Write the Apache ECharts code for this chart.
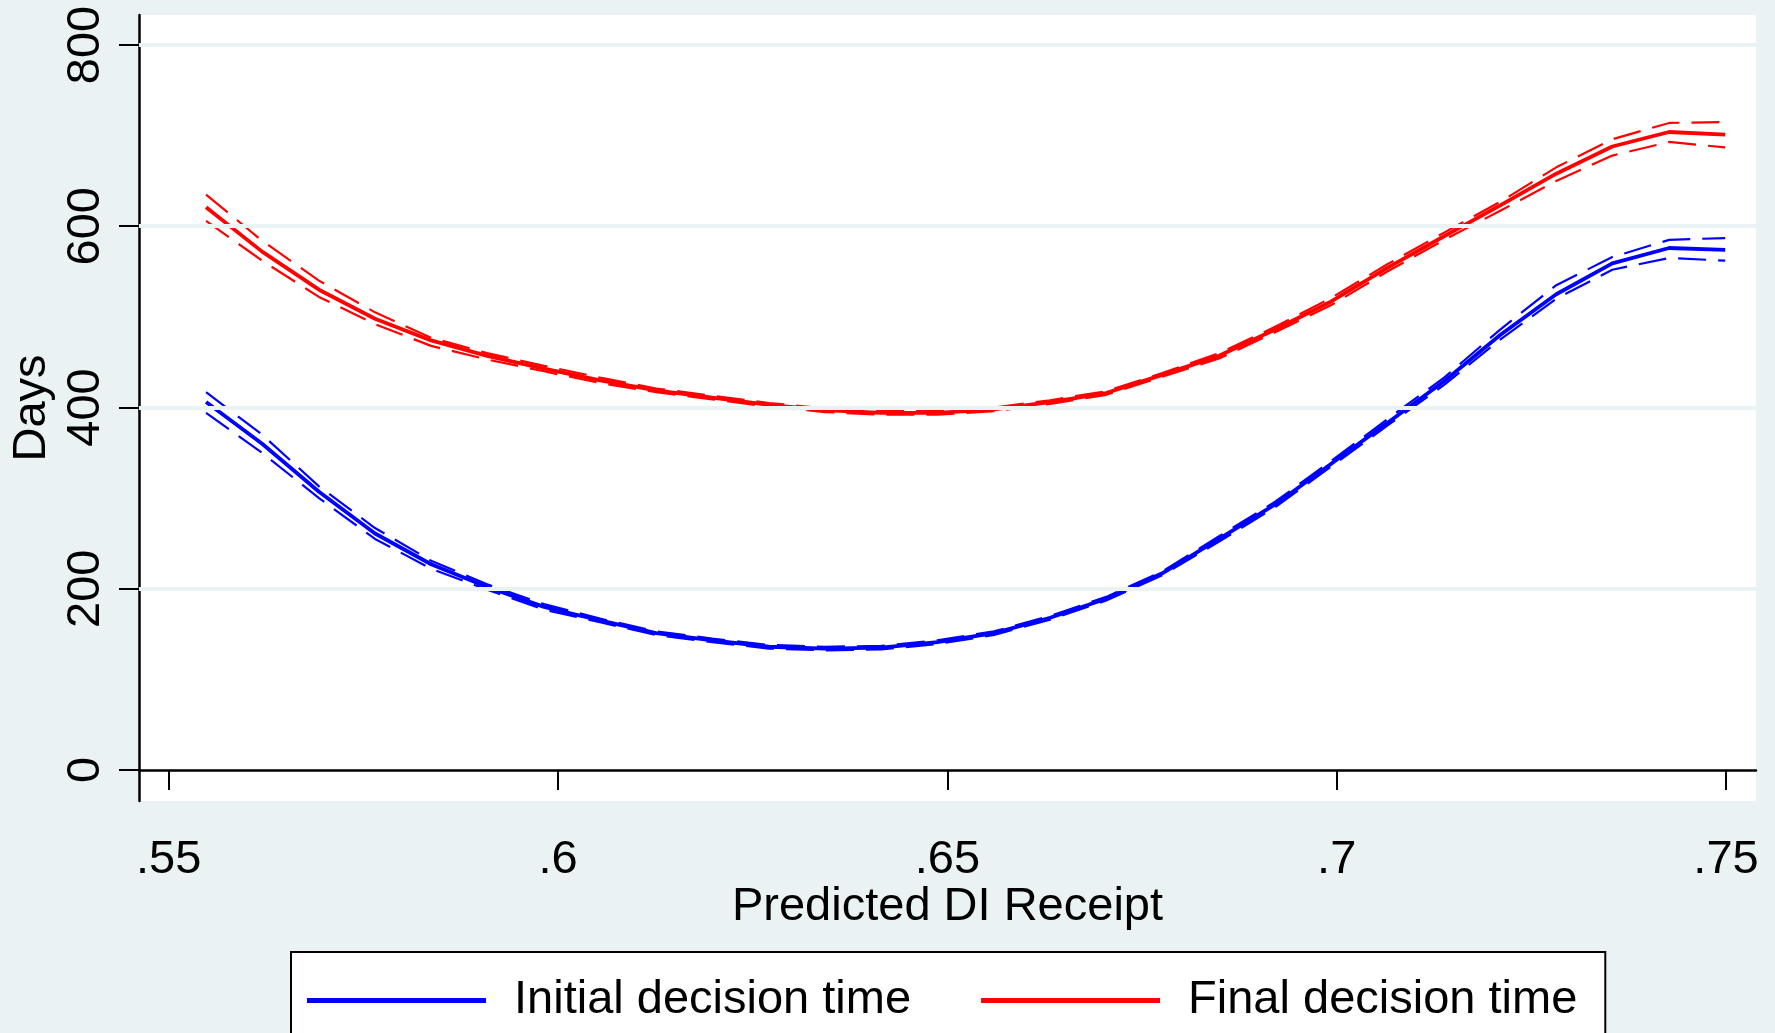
<!DOCTYPE html>
<html>
<head>
<meta charset="utf-8">
<script src="https://cdn.jsdelivr.net/npm/echarts@6/dist/echarts.min.js"></script>
<style>
  html, body { margin: 0; padding: 0; background: #EAF2F3; }
  #chart { width: 1775px; height: 1033px; }
</style>
</head>
<body>
<div id="chart"></div>
<script>
// Evaluation points (Predicted DI Receipt)
const xs = [0.5548, 0.5620, 0.5693, 0.5765, 0.5837, 0.5909, 0.5982, 0.6054, 0.6126, 0.6198,
            0.6271, 0.6343, 0.6415, 0.6487, 0.6560, 0.6632, 0.6704, 0.6776, 0.6849, 0.6921,
            0.6993, 0.7065, 0.7138, 0.7210, 0.7282, 0.7354, 0.7427, 0.7499];

// Initial decision time (days) and its confidence band
const initialMain  = [406, 360, 307, 261, 227, 202, 180, 165, 151, 143, 136, 134, 135, 141, 151, 168, 189, 217, 255, 293, 338, 383, 429, 480, 525, 559, 576, 574];
const initialUpper = [417, 370, 313, 267, 231, 205, 183, 167, 153, 145, 138, 136, 137, 143, 153, 170, 191, 219, 258, 296, 341, 387, 433, 486, 535, 566, 585, 587];
const initialLower = [394, 350, 300, 255, 222, 199, 177, 163, 149, 141, 134, 132, 133, 139, 149, 166, 187, 215, 252, 290, 335, 380, 425, 475, 520, 552, 565, 562];

// Final decision time (days) and its confidence band
const finalMain  = [621, 572, 530, 498, 474, 457, 443, 430, 419, 411, 403, 397, 394, 394, 398, 406, 416, 436, 457, 486, 517, 554, 589, 623, 658, 688, 704, 701];
const finalUpper = [635, 584, 540, 505, 477, 460, 446, 433, 421, 413, 405, 399, 396, 396, 400, 408, 418, 438, 460, 489, 521, 558, 593, 627, 665, 696, 714, 715];
const finalLower = [606, 562, 522, 492, 468, 453, 440, 427, 417, 409, 401, 395, 392, 392, 396, 404, 414, 434, 454, 483, 513, 550, 585, 617, 650, 678, 693, 687];

const xTicks = [0.55, 0.6, 0.65, 0.7, 0.75];
const yTicks = [0, 200, 400, 600, 800];
const gridValues = [200, 400, 600, 800];

const seriesNames = ['Initial decision time', 'Final decision time'];
const xTitle = 'Predicted DI Receipt';
const yTitle = 'Days';

const pairs = arr => xs.map((x, i) => [x, arr[i]]);

const BLUE = '#0000FF', RED = '#FF0000', BG = '#EAF2F3';
const FONT = 'Liberation Sans, Arial, Helvetica, sans-serif';
const FS = 47;

function lineSeries(name, data, color, dashed) {
  return {
    name: name,
    type: 'line',
    data: pairs(data),
    symbol: 'none',
    showSymbol: false,
    smooth: false,
    silent: true,
    z: dashed ? 3 : 4,
    lineStyle: dashed
      ? { color: color, width: 2.2, type: [28, 12] }
      : { color: color, width: 3.8 },
    itemStyle: { color: color }
  };
}

const chart = echarts.init(document.getElementById('chart'), null, { renderer: 'canvas' });

const option = {
  animation: false,
  backgroundColor: BG,
  textStyle: { fontFamily: FONT },
  grid: {
    left: 139, right: 19, top: 15, bottom: 232,
    show: true, backgroundColor: '#FFFFFF', borderWidth: 0
  },
  xAxis: {
    type: 'value',
    min: 0.546186, max: 0.753853,
    name: xTitle,
    nameLocation: 'middle',
    nameGap: 83,
    nameMoveOverlap: false,
    nameTextStyle: { fontSize: FS, color: '#000', fontFamily: FONT },
    axisLine: { show: true, lineStyle: { color: '#000', width: 2.5 } },
    axisTick: { show: true, length: 20, lineStyle: { color: '#000', width: 2 }, customValues: xTicks },
    axisLabel: {
      show: true, fontSize: FS, color: '#000', fontFamily: FONT, margin: 36,
      customValues: xTicks,
      formatter: v => String(v).replace(/^0/, '')
    },
    splitLine: { show: false }
  },
  yAxis: {
    type: 'value',
    min: -34.2, max: 833.1,
    name: yTitle,
    nameLocation: 'middle',
    nameGap: 81,
    nameTextStyle: { fontSize: FS, color: '#000', fontFamily: FONT },
    axisLine: { show: true, lineStyle: { color: '#000', width: 2.5 } },
    axisTick: { show: true, length: 20, lineStyle: { color: '#000', width: 2 }, customValues: yTicks },
    axisLabel: {
      show: true, fontSize: FS, color: '#000', fontFamily: FONT, margin: 29, rotate: 90,
      customValues: yTicks
    },
    splitLine: { show: false }
  },
  legend: {
    data: seriesNames,
    left: 291, top: 952,
    orient: 'horizontal',
    backgroundColor: '#FFFFFF',
    borderColor: '#000',
    borderWidth: 2,
    borderRadius: 0,
    padding: [25, 28, 40, 16],
    itemGap: 70,
    itemWidth: 179,
    itemHeight: 5,
    icon: 'rect',
    selectedMode: false,
    textStyle: { fontSize: FS, color: '#000', fontFamily: FONT, padding: [0, 0, 0, 23] }
  },
  series: [
    {
      name: 'grid',
      type: 'line',
      data: [],
      silent: true,
      z: 1,
      markLine: {
        silent: true,
        symbol: ['none', 'none'],
        label: { show: false },
        lineStyle: { color: BG, width: 4, type: 'solid' },
        data: gridValues.map(v => ({ yAxis: v }))
      }
    },
    lineSeries('Initial upper', initialUpper, BLUE, true),
    lineSeries('Initial lower', initialLower, BLUE, true),
    lineSeries(seriesNames[0], initialMain, BLUE, false),
    lineSeries('Final upper', finalUpper, RED, true),
    lineSeries('Final lower', finalLower, RED, true),
    lineSeries(seriesNames[1], finalMain, RED, false)
  ]
};

chart.setOption(option);
</script>
</body>
</html>
